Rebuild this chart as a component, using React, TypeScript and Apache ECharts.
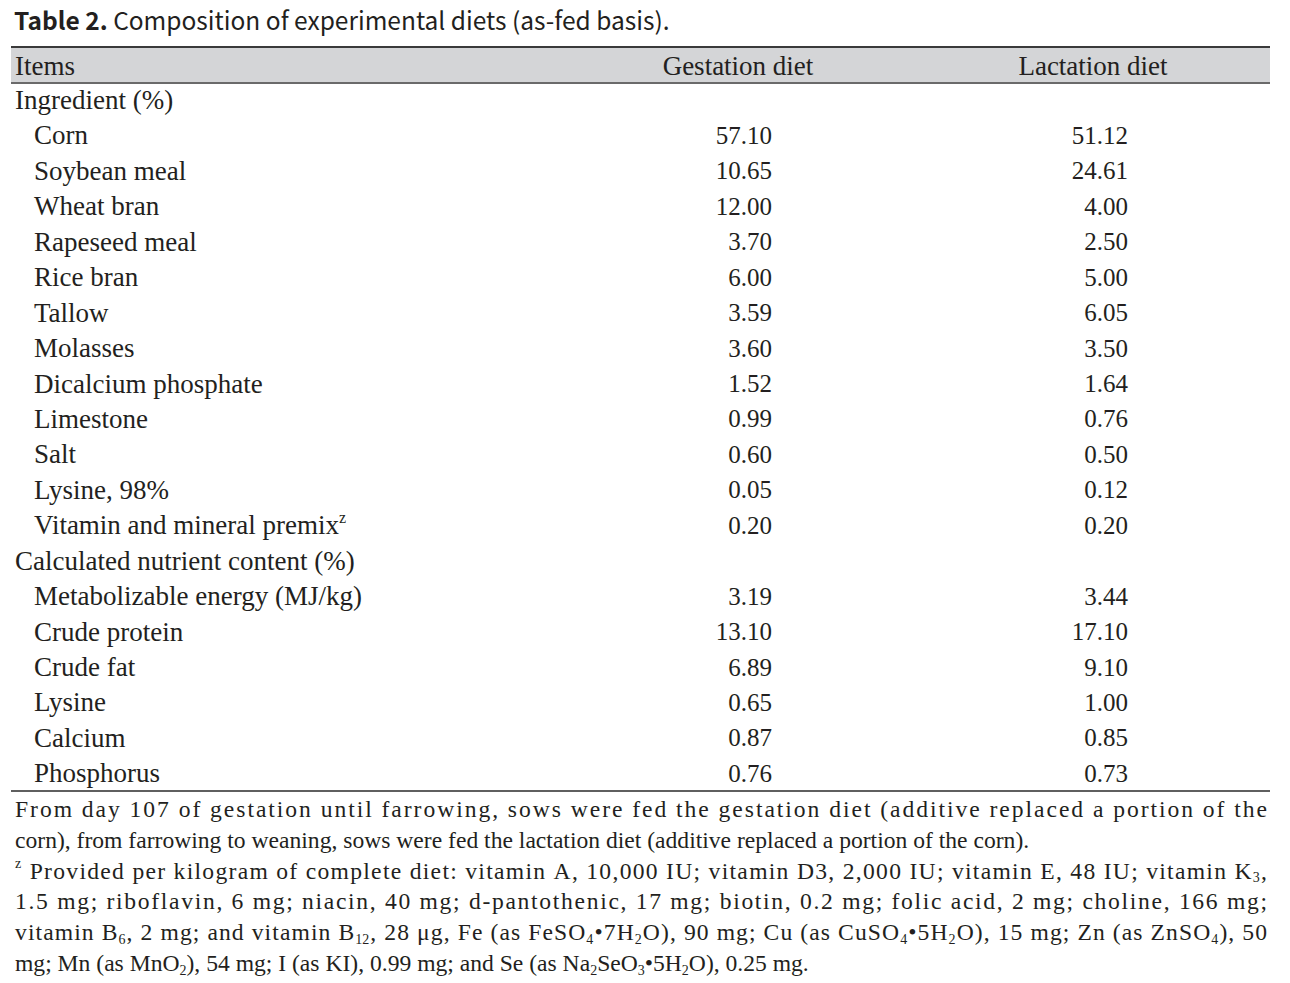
import React, { useEffect, useRef } from "react";
import * as echarts from "echarts";

const TITLE_BOLD = "Table 2.";
const TITLE_REST = " Composition of experimental diets (as-fed basis).";
const COLUMN_HEADERS = ["Items", "Gestation diet", "Lactation diet"];

const SECTION_INGREDIENT = "Ingredient (%)";
const INGREDIENTS = [
  "Corn",
  "Soybean meal",
  "Wheat bran",
  "Rapeseed meal",
  "Rice bran",
  "Tallow",
  "Molasses",
  "Dicalcium phosphate",
  "Limestone",
  "Salt",
  "Lysine, 98%",
  "Vitamin and mineral premix{sup|z}",
];
const INGREDIENT_GESTATION = [57.1, 10.65, 12.0, 3.7, 6.0, 3.59, 3.6, 1.52, 0.99, 0.6, 0.05, 0.2];
const INGREDIENT_LACTATION = [51.12, 24.61, 4.0, 2.5, 5.0, 6.05, 3.5, 1.64, 0.76, 0.5, 0.12, 0.2];

const SECTION_NUTRIENT = "Calculated nutrient content (%)";
const NUTRIENTS = [
  "Metabolizable energy (MJ/kg)",
  "Crude protein",
  "Crude fat",
  "Lysine",
  "Calcium",
  "Phosphorus",
];
const NUTRIENT_GESTATION = [3.19, 13.1, 6.89, 0.65, 0.87, 0.76];
const NUTRIENT_LACTATION = [3.44, 17.1, 9.1, 1.0, 0.85, 0.73];

const FOOTNOTE_LINES = [
  "From day 107 of gestation until farrowing, sows were fed the gestation diet (additive replaced a portion of the",
  "corn), from farrowing to weaning, sows were fed the lactation diet (additive replaced a portion of the corn).",
  "{sup|z}\u00a0Provided per kilogram of complete diet: vitamin A, 10,000 IU; vitamin D3, 2,000 IU; vitamin E, 48 IU; vitamin K{sub|3},",
  "1.5 mg; riboflavin, 6 mg; niacin, 40 mg; d-pantothenic, 17 mg; biotin, 0.2 mg; folic acid, 2 mg; choline, 166 mg;",
  "vitamin B{sub|6}, 2 mg; and vitamin B{sub|12}, 28 \u03bcg, Fe (as FeSO{sub|4}\u20227H{sub|2}O), 90 mg; Cu (as CuSO{sub|4}\u20225H{sub|2}O), 15 mg; Zn (as ZnSO{sub|4}), 50",
  "mg; Mn (as MnO{sub|2}), 54 mg; I (as KI), 0.99 mg; and Se (as Na{sub|2}SeO{sub|3}\u20225H{sub|2}O), 0.25 mg.",
];
const FOOTNOTE_JUSTIFY = [true, false, true, true, true, false];

const SERIF = '"Liberation Serif", "DejaVu Serif", serif';
const SANS = '"Noto Sans CJK KR", "Noto Sans", sans-serif';
const TEXT_COLOR = "#231f20";
const LABEL_SIZE = 27;
const NUM_SIZE = 25;
const FN_SIZE = 23.6;

function subSizeOf(size: number) {
  return Math.round(size * 0.6);
}
function lineHeightOf(size: number) {
  return Math.round(size * 1.2);
}

function richFor(size: number) {
  const s = subSizeOf(size);
  return {
    sub: { fontSize: s, lineHeight: s, verticalAlign: "bottom", fontFamily: SERIF, fill: TEXT_COLOR },
    sup: { fontSize: s, lineHeight: s, verticalAlign: "top", fontFamily: SERIF, fill: TEXT_COLOR },
  };
}

let measureCtx: CanvasRenderingContext2D | null = null;
function measurePlain(s: string, size: number): number {
  if (!measureCtx) measureCtx = document.createElement("canvas").getContext("2d");
  if (!measureCtx) return s.length * size * 0.45;
  measureCtx.font = `${size}px "Liberation Serif"`;
  return measureCtx.measureText(s).width;
}

type Glyph = { text: string; width: number; kind: string };

// split a rich-markup line into glyph units (single chars, or whole sub/sup tokens)
function glyphsOf(line: string, size: number): Glyph[] {
  const out: Glyph[] = [];
  const re = /\{(\w+)\|([^}]*)\}/g;
  let last = 0;
  let m: RegExpExecArray | null;
  const pushPlain = (s: string) => {
    for (const ch of Array.from(s)) out.push({ text: ch, width: measurePlain(ch, size), kind: "n" });
  };
  while ((m = re.exec(line))) {
    pushPlain(line.slice(last, m.index));
    out.push({ text: m[2], width: measurePlain(m[2], subSizeOf(size)), kind: m[1] });
    last = re.lastIndex;
  }
  pushPlain(line.slice(last));
  return out;
}

function bodyText(text: string, x: number, y: number, size: number, align: string = "left") {
  return {
    type: "text",
    x,
    y,
    silent: true,
    style: {
      text,
      x: 0,
      y: 0,
      fontSize: size,
      fontFamily: SERIF,
      fill: TEXT_COLOR,
      align,
      verticalAlign: "middle",
      lineHeight: lineHeightOf(size),
      rich: richFor(size),
    },
  };
}

export default function App() {
  const ref = useRef<HTMLDivElement>(null);

  useEffect(() => {
    document.body.style.margin = "0";
    if (!ref.current) return;
    const chart = echarts.init(ref.current, undefined, { renderer: "svg" });

    const LEFT = 15;
    const INDENT = 34;
    const RULE_L = 11;
    const RULE_R = 1270;
    const COL_G_RIGHT = 772;
    const COL_L_RIGHT = 1128;
    const COL_G_CENTER = 738;
    const COL_L_CENTER = 1093;
    const HEADER_TOP = 47;
    const HEADER_BOTTOM = 83;
    const ROW0 = 100;
    const ROW_STEP = 35.44;
    const BOTTOM_RULE = 791;
    const FN0 = 809;
    const FN_STEP = 30.8;
    const FN_WIDTH = 1267 - LEFT;

    const elements: any[] = [];

    // title
    elements.push({
      type: "text",
      x: 14,
      y: 19,
      silent: true,
      style: {
        text: `{b|${TITLE_BOLD}}${TITLE_REST}`,
        fontSize: 24.5,
        fontFamily: SANS,
        fill: TEXT_COLOR,
        align: "left",
        verticalAlign: "middle",
        rich: { b: { fontSize: 24.5, fontFamily: SANS, fontWeight: "bold", fill: TEXT_COLOR } },
      },
    });

    // header band
    elements.push({
      type: "rect",
      silent: true,
      shape: { x: RULE_L, y: HEADER_TOP, width: RULE_R - RULE_L, height: HEADER_BOTTOM - HEADER_TOP },
      style: { fill: "#d4d5d7" },
    });
    elements.push({
      type: "line",
      silent: true,
      shape: { x1: RULE_L, y1: HEADER_TOP, x2: RULE_R, y2: HEADER_TOP },
      style: { stroke: "#3a3a3a", lineWidth: 2 },
    });
    elements.push({
      type: "line",
      silent: true,
      shape: { x1: RULE_L, y1: HEADER_BOTTOM, x2: RULE_R, y2: HEADER_BOTTOM },
      style: { stroke: "#6a6a6a", lineWidth: 2 },
    });

    const headerY = (HEADER_TOP + HEADER_BOTTOM) / 2 + 0.5;
    elements.push(bodyText(COLUMN_HEADERS[0], LEFT, headerY, LABEL_SIZE));
    elements.push(bodyText(COLUMN_HEADERS[1], COL_G_CENTER, headerY, LABEL_SIZE, "center"));
    elements.push(bodyText(COLUMN_HEADERS[2], COL_L_CENTER, headerY, LABEL_SIZE, "center"));

    // rows
    let row = 0;
    const rowY = (i: number) => ROW0 + i * ROW_STEP;
    elements.push(bodyText(SECTION_INGREDIENT, LEFT, rowY(row++), LABEL_SIZE));
    INGREDIENTS.forEach((name, i) => {
      const y = rowY(row++);
      elements.push(bodyText(name, INDENT, y, LABEL_SIZE));
      elements.push(bodyText(INGREDIENT_GESTATION[i].toFixed(2), COL_G_RIGHT, y, NUM_SIZE, "right"));
      elements.push(bodyText(INGREDIENT_LACTATION[i].toFixed(2), COL_L_RIGHT, y, NUM_SIZE, "right"));
    });
    elements.push(bodyText(SECTION_NUTRIENT, LEFT, rowY(row++), LABEL_SIZE));
    NUTRIENTS.forEach((name, i) => {
      const y = rowY(row++);
      elements.push(bodyText(name, INDENT, y, LABEL_SIZE));
      elements.push(bodyText(NUTRIENT_GESTATION[i].toFixed(2), COL_G_RIGHT, y, NUM_SIZE, "right"));
      elements.push(bodyText(NUTRIENT_LACTATION[i].toFixed(2), COL_L_RIGHT, y, NUM_SIZE, "right"));
    });

    elements.push({
      type: "line",
      silent: true,
      shape: { x1: RULE_L, y1: BOTTOM_RULE, x2: RULE_R, y2: BOTTOM_RULE },
      style: { stroke: "#2a2a2a", lineWidth: 1.5 },
    });

    // footnotes: justified lines spread evenly between glyphs (letter spacing)
    const subSize = subSizeOf(FN_SIZE);
    const subShift = (lineHeightOf(FN_SIZE) - subSize) / 2;
    FOOTNOTE_LINES.forEach((line, li) => {
      const y = FN0 + li * FN_STEP;
      if (!FOOTNOTE_JUSTIFY[li]) {
        elements.push(bodyText(line, LEFT, y, FN_SIZE));
        return;
      }
      const glyphs = glyphsOf(line, FN_SIZE);
      const total = glyphs.reduce((a, g) => a + g.width, 0);
      const spacing = glyphs.length > 1 ? (FN_WIDTH - total) / (glyphs.length - 1) : 0;
      let x = LEFT;
      glyphs.forEach((g) => {
        if (g.text.trim() !== "") {
          if (g.kind === "sub") elements.push(bodyText(g.text, x, y + subShift, subSize));
          else if (g.kind === "sup") elements.push(bodyText(g.text, x, y - subShift, subSize));
          else elements.push(bodyText(g.text, x, y, FN_SIZE));
        }
        x += g.width + spacing;
      });
    });

    chart.setOption({
      animation: false,
      backgroundColor: "#ffffff",
      graphic: { elements },
    });

    return () => chart.dispose();
  }, []);

  return <div ref={ref} style={{ width: 1290, height: 983 }} />;
}
